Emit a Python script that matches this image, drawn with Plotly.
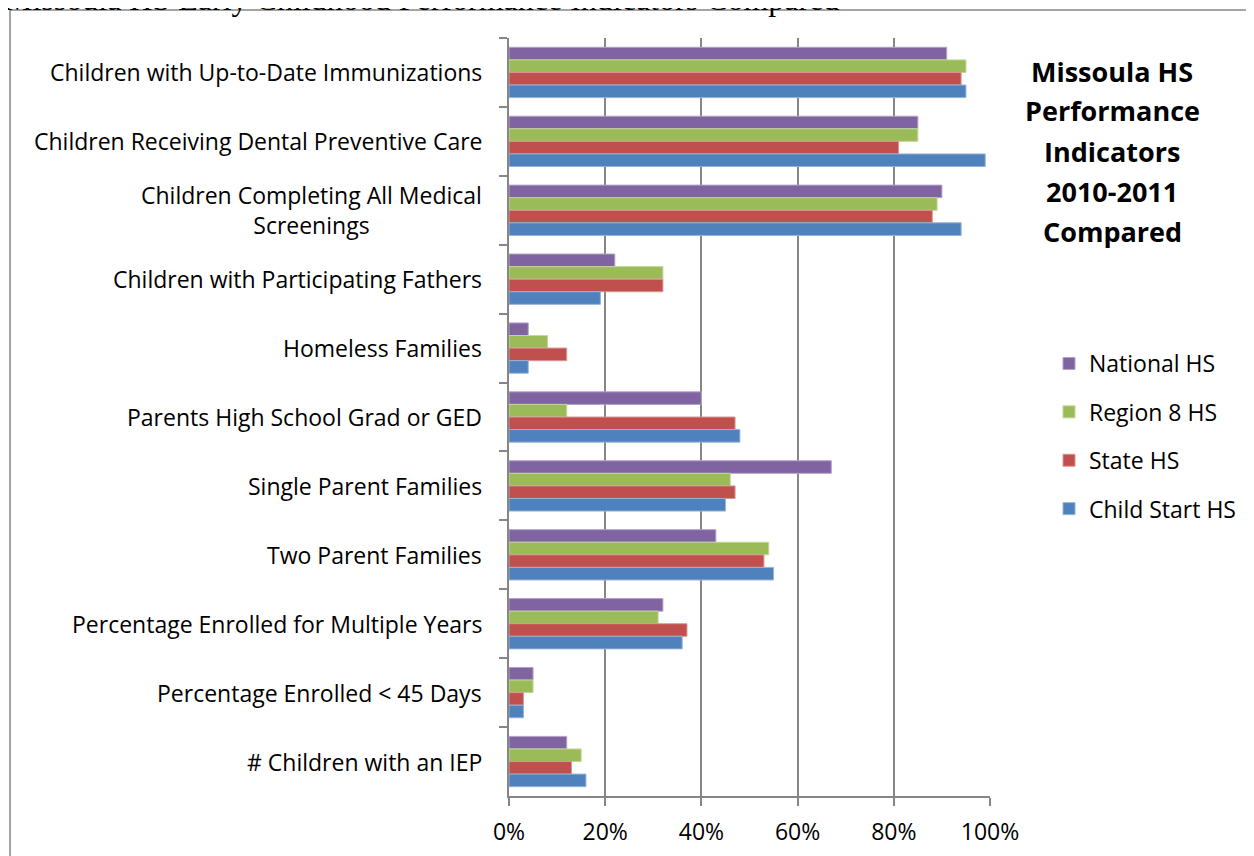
import plotly.graph_objects as go

# categories, top to bottom as in the chart
categories = [
    "Children with Up-to-Date Immunizations",
    "Children Receiving Dental Preventive Care",
    "Children Completing All Medical<br>Screenings",
    "Children with Participating Fathers",
    "Homeless Families",
    "Parents High School Grad or GED",
    "Single Parent Families",
    "Two Parent Families",
    "Percentage Enrolled for Multiple Years",
    "Percentage Enrolled < 45 Days",
    "# Children with an IEP",
]

national_hs = [91, 85, 90, 22, 4, 40, 67, 43, 32, 5, 12]
region8_hs = [95, 85, 89, 32, 8, 12, 46, 54, 31, 5, 15]
state_hs = [94, 81, 88, 32, 12, 47, 47, 53, 37, 3, 13]
child_start_hs = [95, 99, 94, 19, 4, 48, 45, 55, 36, 3, 16]

series_names = ["National HS", "Region 8 HS", "State HS", "Child Start HS"]
series_values = [national_hs, region8_hs, state_hs, child_start_hs]

title_lines = ["Missoula HS", "Performance", "Indicators", "2010-2011", "Compared"]
caption = "Missoula HS Early Childhood Performance Indicators Compared"

colors = ["#8064A2", "#9BBB59", "#C0504D", "#4F81BD"]
edges = ["#B3A2C7", "#C3D69B", "#D99694", "#95B3D7"]

label_font = "Open Sans, Lato, sans-serif"
grid = "#868686"

# the page body has an 8px margin, so screen px = figure px + 8
OFF = 8
W, H = 1254, 856
L, T = 509 - OFF, 38 - OFF
R, B = W - (990 - OFF), H - (796 - OFF)
pw, ph = W - L - R, H - T - B


def px_x(x):
    return (x - OFF - L) / pw


def px_y(y):
    return 1 - (y - OFF - T) / ph


fig = go.Figure()
for name, vals, col, edge in zip(series_names, series_values, colors, edges):
    fig.add_trace(go.Bar(
        y=categories,
        x=[v / 100 for v in vals],
        orientation="h",
        name=name,
        legendgroup=name,
        marker=dict(color=col, line=dict(color=edge, width=1)),
    ))

# category labels: centred lines, block right-aligned at the axis
for c in categories:
    fig.add_annotation(
        x=0, xref="x", y=c, yref="y",
        text=c, showarrow=False,
        xanchor="right", yanchor="middle", align="center",
        xshift=-25,
        font=dict(family=label_font, size=23, color="black"),
    )

# bold side title, one line each so spacing can match
for k, line in enumerate(title_lines):
    fig.add_annotation(
        x=px_x(1112), xref="paper", y=px_y(71 + 40 * k), yref="paper",
        text="<b>" + line + "</b>", showarrow=False,
        xanchor="center", yanchor="middle",
        font=dict(family=label_font, size=27, color="black"),
    )

# document caption above the chart box, mostly cut off
fig.add_annotation(
    x=px_x(2), xref="paper", y=px_y(19), yref="paper",
    text=caption, showarrow=False, xanchor="left", yanchor="bottom",
    font=dict(family="Liberation Serif", size=32, color="black"),
)

# outer chart border (left and top edges visible)
fig.add_shape(type="line", xref="paper", yref="paper",
              x0=px_x(10), x1=px_x(10), y0=px_y(900), y1=px_y(10),
              line=dict(color=grid, width=1.5))
fig.add_shape(type="line", xref="paper", yref="paper",
              x0=px_x(10), x1=px_x(1300), y0=px_y(10), y1=px_y(10),
              line=dict(color=grid, width=1.5))

fig.update_layout(
    width=W,
    height=H,
    plot_bgcolor="white",
    paper_bgcolor="white",
    barmode="group",
    bargap=0.27,
    bargroupgap=0,
    margin=dict(l=L, r=R, t=T, b=B, autoexpand=False),
    showlegend=True,
    legend=dict(
        x=px_x(1049), y=px_y(342), xanchor="left", yanchor="top",
        font=dict(family=label_font, size=23, color="black"),
        tracegroupgap=15.5,
        itemwidth=30,
    ),
    xaxis=dict(
        range=[0, 1],
        dtick=0.2,
        tickformat=".0%",
        showgrid=True,
        gridcolor=grid,
        gridwidth=1.5,
        zeroline=False,
        showline=True,
        linecolor=grid,
        linewidth=1.5,
        ticks="outside",
        ticklen=8,
        tickcolor=grid,
        tickwidth=1.5,
        ticklabelstandoff=7,
        tickfont=dict(family=label_font, size=23, color="black"),
        fixedrange=True,
    ),
    yaxis=dict(
        autorange="reversed",
        showticklabels=False,
        showline=True,
        linecolor=grid,
        linewidth=1.5,
        ticks="outside",
        tickson="boundaries",
        ticklen=8,
        tickcolor=grid,
        tickwidth=1.5,
        showgrid=False,
        fixedrange=True,
    ),
)

fig.write_html("out.html")
